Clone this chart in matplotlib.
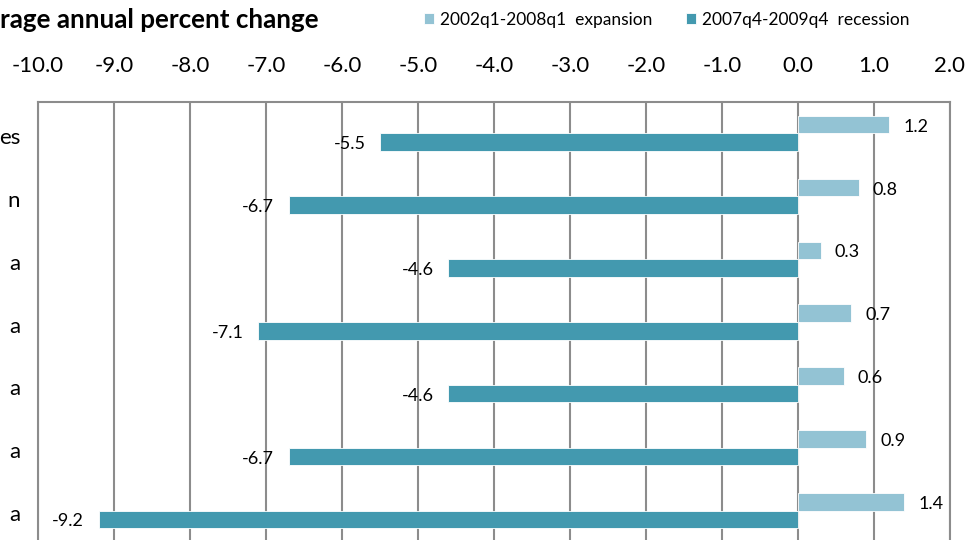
import matplotlib
matplotlib.use("Agg")
import matplotlib.pyplot as plt
import numpy as np

plt.rcParams['font.family'] = ['Lato', 'DejaVu Sans']

categories = ["es", "n", "a", "a", "a", "a", "a"]
expansion = [1.2, 0.8, 0.3, 0.7, 0.6, 0.9, 1.4]
recession = [-5.5, -6.7, -4.6, -7.1, -4.6, -6.7, -9.2]
xticks = np.arange(-10, 3, 1)
series_names = ["2002q1-2008q1  expansion", "2007q4-2009q4  recession"]

c_exp = "#93C3D4"
c_rec = "#4399AF"
grid_c = "#8C8C8C"

W, H = 976, 540
fig = plt.figure(figsize=(W/100, H/100), dpi=100)
left, right, top, bottom = 38, 950, 102, 542
ax = fig.add_axes([left/W, 1-bottom/H, (right-left)/W, (bottom-top)/H])

n = len(categories)
y = np.arange(n)
bh = 0.28
b1 = ax.barh(y - bh/2, expansion, height=bh, color=c_exp, edgecolor="white", linewidth=0.6, label=series_names[0])
b2 = ax.barh(y + bh/2, recession, height=bh, color=c_rec, edgecolor="white", linewidth=0.6, label=series_names[1])

ax.set_xlim(-10, 2)
ax.set_ylim(n - 0.5, -0.5)
ax.set_xticks(xticks)
ax.set_xticklabels([f"{v:.1f}" for v in xticks], fontsize=16)
ax.xaxis.tick_top()
ax.tick_params(axis='x', length=0, pad=19)
ax.set_yticks(y + 0.04)
ax.set_yticklabels(categories, fontsize=16)
ax.tick_params(axis='y', length=0, pad=12.8)
ax.grid(axis='x', color=grid_c, linewidth=1.5)
ax.set_axisbelow(True)
for s in ["left", "right", "top"]:
    ax.spines[s].set_color(grid_c)
    ax.spines[s].set_linewidth(1.5)
ax.spines["bottom"].set_visible(False)

for yi, v in zip(y, expansion):
    ax.annotate(f"{v:.1f}", (v, yi - bh/2), xytext=(10, -1.5), textcoords="offset points",
                ha="left", va="center", fontsize=13)
for yi, v in zip(y, recession):
    ax.annotate(f"{v:.1f}", (v, yi + bh/2), xytext=(-10.5, -1.5), textcoords="offset points",
                ha="right", va="center", fontsize=13)

fig.text(0, 1-20/H, "rage annual percent change", fontsize=18.7, fontweight="bold",
         ha="left", va="center")

fig.legend(handles=[b1, b2], labels=series_names, loc="center left",
           bbox_to_anchor=(424/W, 1-20/H), ncol=2, frameon=False, fontsize=12.5,
           handlelength=0.6, handleheight=0.6, handletextpad=0.35, columnspacing=1.9,
           borderaxespad=0, borderpad=0)

fig.savefig("out.png", dpi=100)
